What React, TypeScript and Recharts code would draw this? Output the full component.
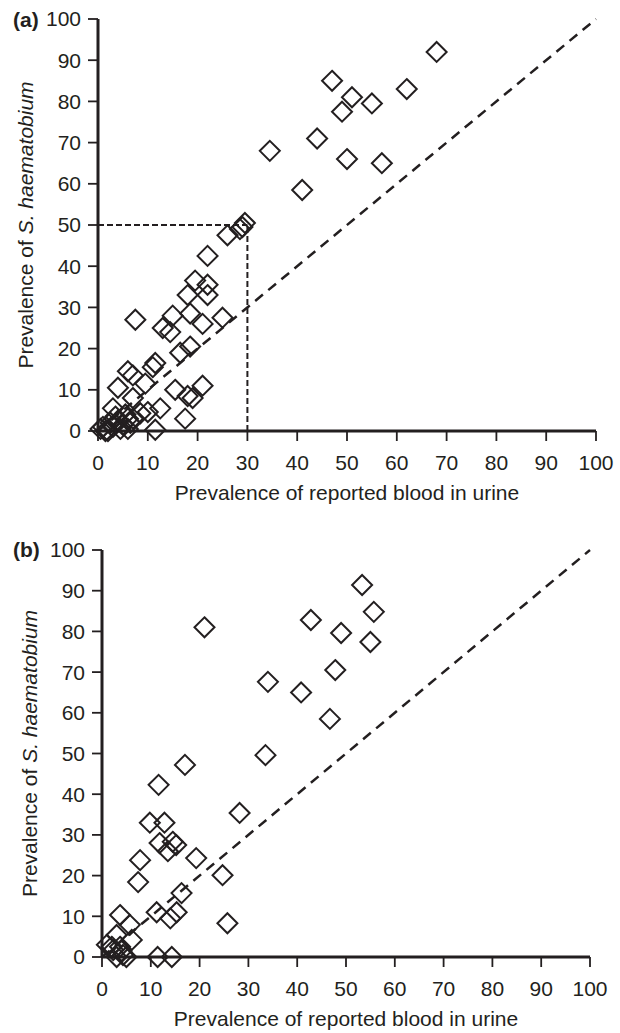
import { ReferenceLine, Scatter, ScatterChart, XAxis, YAxis } from "recharts";

const tickValues = [0, 10, 20, 30, 40, 50, 60, 70, 80, 90, 100];

// panel (a): prevalence of reported blood in urine vs S. haematobium
const bloodA = [
  68, 47, 51, 49, 55, 62, 44, 50, 57, 41, 34.5,
  29.5, 29, 28.5, 26, 22, 19.5, 22, 22, 18, 7.5, 15, 18.5, 25, 21, 13, 14.5,
  16.5, 18.5, 11.5, 11, 6, 7, 4, 7, 9.5, 15.5, 18, 19, 21, 12.5, 17.5, 11.5, 3, 8.5, 10,
  0.5, 1, 2.5, 2, 3, 4, 4.5, 5, 6, 6, 6.5, 7, 5.5, 3.5, 1.5,
];
const shA = [
  92, 85, 81, 77.5, 79.5, 83, 71, 66, 65, 58.5, 68,
  50.5, 49.5, 49, 47.5, 42.5, 36.5, 35.5, 33, 33, 27, 28, 28.5, 27.5, 26, 25, 24,
  19, 20.5, 16.5, 15.5, 14.5, 13.5, 10.5, 8, 11.5, 10, 8.5, 8, 11, 5.5, 3, 0.3, 5.5, 4.3, 4.6,
  0.5, 1, 2, 0, 1, 2.5, 0.5, 1.5, 3, 0.5, 2, 3, 4, 3.5, 0,
];

// panel (b)
const bloodB = [
  53.3, 55.7, 42.8, 49, 55, 47.8, 40.8, 46.7, 34, 21, 33.5, 17, 11.6, 28.2,
  9.8, 12.8, 11.8, 14.5, 13.5, 15.2, 7.8, 19.3, 7.4, 24.7, 16.3, 11.2, 15.3, 14,
  25.7, 3.7, 5.7, 6.1, 3, 1, 2.3, 3.7, 4.3, 3, 11.4, 14.3, 5, 4, 2,
];
const shB = [
  91.4, 84.8, 82.8, 79.6, 77.4, 70.5, 65, 58.5, 67.6, 81, 49.6, 47.2, 42.3, 35.4,
  33, 33, 28, 28.3, 26, 27.5, 23.8, 24.3, 18.4, 20.1, 15.7, 11, 11, 9.5,
  8.3, 10.3, 7.9, 4.2, 5.4, 3, 1.7, 2.5, 0.5, 0, 0, 0, 0, 1.5, 2.5,
];

const dataA = bloodA.map((x, i) => ({ x, y: shA[i] }));
const dataB = bloodB.map((x, i) => ({ x, y: shB[i] }));

const ink = "#231f20";
const font = "'Liberation Sans', Arial, Helvetica, sans-serif";

const Diamond = (props: any) => {
  const { cx, cy } = props;
  if (cx == null || cy == null) return null;
  const r = 10;
  return (
    <polygon
      points={`${cx},${cy - r} ${cx + r},${cy} ${cx},${cy + r} ${cx - r},${cy}`}
      fill="none"
      stroke={ink}
      strokeWidth={2}
    />
  );
};

const YTitle = ({ tag, tx, ty, cx, cy }: any) => (
  <g fontFamily={font} fill={ink}>
    <text x={tx} y={ty} fontSize={21} fontWeight="bold">
      {tag}
    </text>
    <text
      x={cx}
      y={cy}
      transform={`rotate(-90 ${cx} ${cy})`}
      textAnchor="middle"
      dominantBaseline="central"
      fontSize={21}
    >
      Prevalence of <tspan fontStyle="italic">S. haematobium</tspan>
    </text>
  </g>
);

const XTitle = ({ cx, cy }: any) => (
  <text x={cx} y={cy} textAnchor="middle" fontSize={21} fontFamily={font} fill={ink}>
    Prevalence of reported blood in urine
  </text>
);

const axisLine = { stroke: ink, strokeWidth: 3 };
const tickLine = { stroke: ink, strokeWidth: 1.8 };
const tickStyle = { fontSize: 21, fill: ink, fontFamily: font };

const Panel = ({ data, margin, height, tag, tagY, titleX, guides }: any) => {
  const plotLeft = margin.left + 60;
  const plotRight = 620 - margin.right;
  const plotBottom = height - margin.bottom - 60;
  const midY = (margin.top + plotBottom) / 2;
  return (
    <ScatterChart width={620} height={height} margin={margin}>
      <XAxis
        type="number"
        dataKey="x"
        domain={[0, 100]}
        ticks={tickValues}
        interval={0}
        height={60}
        axisLine={axisLine}
        tickLine={tickLine}
        tickSize={10}
        tickMargin={14}
        tick={tickStyle}
        label={<XTitle cx={(plotLeft + plotRight) / 2} cy={plotBottom + 69} />}
      />
      <YAxis
        type="number"
        dataKey="y"
        domain={[0, 100]}
        ticks={tickValues}
        interval={0}
        width={60}
        axisLine={axisLine}
        tickLine={tickLine}
        tickSize={10}
        tickMargin={7}
        tick={tickStyle}
        label={<YTitle tag={tag} tx={13} ty={tagY} cx={titleX} cy={midY} />}
      />
      <ReferenceLine
        segment={[{ x: 0, y: 0 }, { x: 100, y: 100 }]}
        stroke={ink}
        strokeWidth={2.5}
        strokeDasharray="10 7"
      />
      {guides && (
        <ReferenceLine
          segment={[{ x: 0, y: 50 }, { x: 30, y: 50 }]}
          stroke={ink}
          strokeWidth={2}
          strokeDasharray="6 3"
        />
      )}
      {guides && (
        <ReferenceLine
          segment={[{ x: 30, y: 0 }, { x: 30, y: 50 }]}
          stroke={ink}
          strokeWidth={2}
          strokeDasharray="6 3"
        />
      )}
      <Scatter data={data} shape={<Diamond />} isAnimationActive={false} />
    </ScatterChart>
  );
};

export default function App() {
  return (
    <div
      style={{
        position: "absolute",
        left: 0,
        top: 0,
        width: 620,
        height: 1033,
        background: "#fff",
        fontFamily: font,
      }}
    >
      <div style={{ position: "absolute", left: 0, top: 0 }}>
        <Panel
          data={dataA}
          height={520}
          margin={{ top: 19, right: 24, bottom: 29, left: 38 }}
          tag="(a)"
          tagY={27}
          titleX={25}
          guides
        />
      </div>
      <div style={{ position: "absolute", left: 0, top: 520 }}>
        <Panel
          data={dataB}
          height={513}
          margin={{ top: 30, right: 30, bottom: 16, left: 42 }}
          tag="(b)"
          tagY={37}
          titleX={29}
        />
      </div>
    </div>
  );
}
